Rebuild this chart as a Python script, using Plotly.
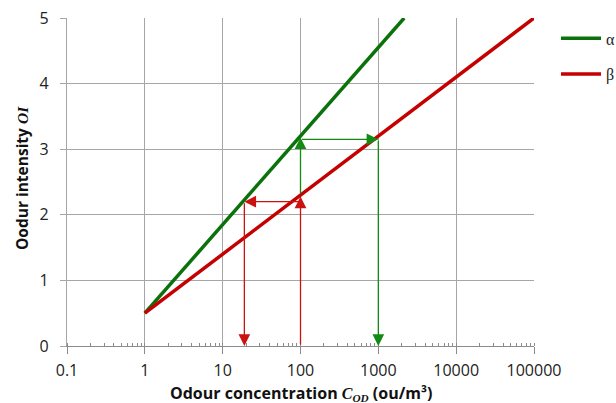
import numpy as np
import plotly.graph_objects as go

# Data
alpha_x = [1, 2150]
alpha_y = [0.5, 5.0]
beta_x = [1, 100000]
beta_y = [0.5, 5.0]

# Arrow paths: (x_start, y_start, x_end, y_end)
green_arrows = [
    (100, 2.30, 100, 3.18),
    (100, 3.15, 1000, 3.15),
    (1000, 3.15, 1000, 0.0),
]
red_arrows = [
    (100, 0.0, 100, 2.28),
    (100, 2.20, 19, 2.20),
    (19, 2.20, 19, 0.0),
]

x_tickvals = [0.1, 1, 10, 100, 1000, 10000, 100000]
x_ticktext = ["0.1", "1", "10", "100", "1000", "10000", "100000"]
y_tickvals = [0, 1, 2, 3, 4, 5]

x_title = "Odour concentration "
y_title = "Oodur intensity "

GREEN = "#0b720b"
RED = "#c40000"
GREEN_THIN = "#138a13"
RED_THIN = "#cc1111"
FONT = "'Open Sans', Lato, sans-serif"
SERIF = "'Liberation Serif', serif"

W, H = 616, 403

fig = go.Figure()
fig.add_trace(go.Scatter(x=alpha_x, y=alpha_y, mode="lines", name="α", legendgroup="a",
                         line=dict(color=GREEN, width=3.5)))
fig.add_trace(go.Scatter(x=beta_x, y=beta_y, mode="lines", name="β", legendgroup="b",
                         line=dict(color=RED, width=3.5)))

annotations = []
for arrows, col in ((green_arrows, GREEN_THIN), (red_arrows, RED_THIN)):
    for x0, y0, x1, y1 in arrows:
        annotations.append(dict(
            x=np.log10(x1), y=y1, ax=np.log10(x0), ay=y0,
            xref="x", yref="y", axref="x", ayref="y",
            text="", showarrow=True, arrowhead=2, arrowsize=1.8,
            arrowwidth=1.3, arrowcolor=col, standoff=0, startstandoff=0,
        ))

# axis titles
annotations.append(dict(
    text=f"<b>{x_title}<span style=\"font-family:{SERIF}\"><i>C<sub>OD</sub></i></span> (ou/m³)</b>",
    xref="paper", yref="paper", x=0.5, y=-0.143, xanchor="center", yanchor="middle",
    showarrow=False, font=dict(size=16, color="#111")))
annotations.append(dict(
    text=f"<b>{y_title}<span style=\"font-family:{SERIF}\"><i>OI</i></span></b>",
    xref="paper", yref="paper", x=-0.0964, y=0.512, xanchor="center", yanchor="middle",
    textangle=-90, showarrow=False, font=dict(size=15.5, color="#111")))

fig.update_layout(
    width=W, height=H,
    margin=dict(l=67, r=82, t=18, b=57),
    plot_bgcolor="white", paper_bgcolor="white",
    font=dict(family=FONT, size=15, color="#222"),
    showlegend=True,
    legend=dict(xref="container", yref="container", x=0.9026, y=0.947,
                xanchor="left", yanchor="top",
                font=dict(family=SERIF, size=16, color="#222"),
                bgcolor="rgba(0,0,0,0)", tracegroupgap=12, itemwidth=40),
    annotations=annotations,
)

fig.update_xaxes(
    type="log", range=[-1, 5], automargin=False,
    tickvals=x_tickvals, ticktext=x_ticktext,
    showgrid=True, gridcolor="#a6a6a6", gridwidth=1,
    showline=True, linecolor="#8c8c8c", linewidth=1.2,
    ticks="outside", ticklen=7, tickcolor="#8c8c8c",
    minor=dict(ticks="inside", ticklen=3, tickcolor="#8c8c8c", showgrid=False,
               dtick="D1"),
    zeroline=False, ticklabelstandoff=3, ticklabeloverflow="allow",
    tickfont=dict(size=16),
)
fig.update_yaxes(
    range=[0, 5], tickvals=y_tickvals, automargin=False,
    showgrid=True, gridcolor="#a6a6a6", gridwidth=1,
    showline=True, linecolor="#a6a6a6", linewidth=1.2,
    ticks="outside", ticklen=6, tickcolor="#a6a6a6",
    zeroline=False, ticklabelstandoff=8, ticklabeloverflow="allow",
    tickfont=dict(size=16),
)

# remove the default 8px page margin so the figure fills the window exactly
fig.write_html("out.html",
               config={"displayModeBar": False},
               post_script="document.body.style.margin='0';document.body.style.overflow='hidden';")
